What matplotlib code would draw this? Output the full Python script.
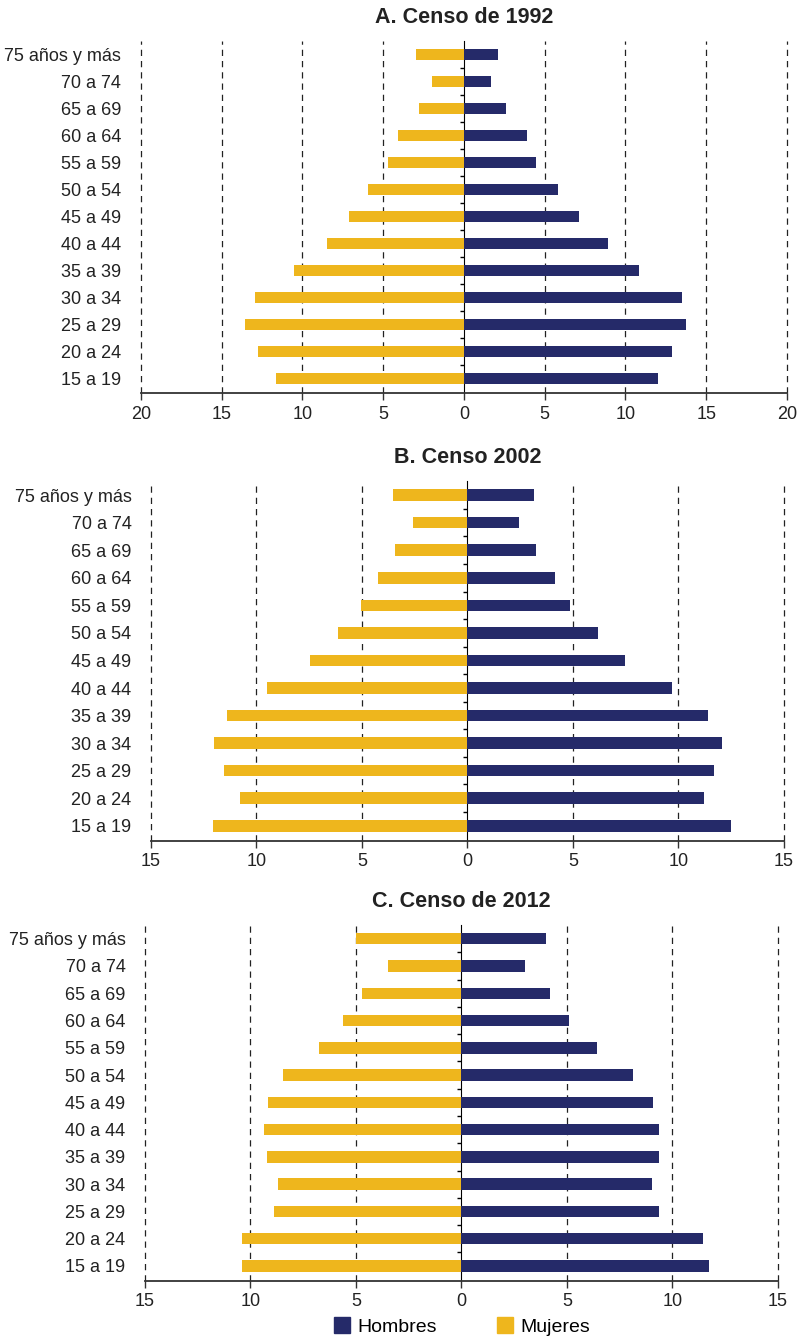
import numpy as np
import matplotlib.pyplot as plt
from matplotlib.lines import Line2D

plt.rcParams['font.family'] = ['Liberation Sans Narrow', 'Liberation Sans', 'DejaVu Sans']

# age groups, bottom to top
grupos = ['15 a 19', '20 a 24', '25 a 29', '30 a 34', '35 a 39', '40 a 44', '45 a 49',
          '50 a 54', '55 a 59', '60 a 64', '65 a 69', '70 a 74', '75 años y más']

# percentages
hombres_1992 = [12.0, 12.85, 13.75, 13.5, 10.85, 8.9, 7.1, 5.8, 4.45, 3.9, 2.6, 1.7, 2.1]
mujeres_1992 = [11.6, 12.75, 13.55, 12.95, 10.5, 8.45, 7.1, 5.95, 4.7, 4.05, 2.8, 1.95, 2.95]
hombres_2002 = [12.5, 11.2, 11.7, 12.05, 11.4, 9.7, 7.45, 6.2, 4.85, 4.15, 3.25, 2.45, 3.15]
mujeres_2002 = [12.05, 10.8, 11.55, 12.0, 11.4, 9.5, 7.45, 6.15, 5.05, 4.25, 3.45, 2.6, 3.55]
hombres_2012 = [11.75, 11.45, 9.35, 9.05, 9.35, 9.35, 9.1, 8.15, 6.45, 5.1, 4.2, 3.0, 4.0]
mujeres_2012 = [10.4, 10.4, 8.9, 8.7, 9.2, 9.35, 9.15, 8.45, 6.75, 5.6, 4.7, 3.5, 5.0]

titulos = ['A. Censo de 1992', 'B. Censo 2002', 'C. Censo de 2012']
limites = [20, 15, 15]

c_hom = '#252a69'
c_muj = '#eeb61d'

fig = plt.figure(figsize=(7.99, 13.37), dpi=100)

# axes positions [left, bottom, width, height] in figure fractions
posiciones = [
    [0.1762, 0.706, 0.8088, 0.2633],
    [0.189, 0.371, 0.792, 0.269],
    [0.1813, 0.0419, 0.7923, 0.2662],
]

series = [(hombres_1992, mujeres_1992), (hombres_2002, mujeres_2002), (hombres_2012, mujeres_2012)]

for pos, (hom, muj), titulo, lim in zip(posiciones, series, titulos, limites):
    ax = fig.add_axes(pos)
    y = np.arange(len(grupos))
    ax.barh(y, hom, height=0.42, color=c_hom, zorder=3)
    ax.barh(y, -np.array(muj), height=0.42, color=c_muj, zorder=3)

    ax.set_xlim(-lim, lim)
    ax.set_ylim(-0.55, len(grupos) - 0.5)
    ticks = np.arange(-lim, lim + 1, 5)
    ax.set_xticks(ticks)
    ax.set_xticklabels([str(abs(t)) for t in ticks])
    ax.set_yticks(y)
    ax.set_yticklabels(grupos)

    # dashed vertical grid
    for t in ticks:
        if t != 0:
            ax.axvline(t, color='#222222', lw=0.9, ls=(0, (5, 4)), zorder=1, clip_on=False)

    for s in ['top', 'right', 'left']:
        ax.spines[s].set_visible(False)
    ax.spines['bottom'].set_color('#333333')
    ax.spines['bottom'].set_linewidth(1.3)
    ax.tick_params(axis='x', length=5, width=1, color='#333333', labelsize=13, pad=4,
                   labelcolor='#222222')
    ax.tick_params(axis='y', length=0, labelsize=13, pad=14, labelcolor='#222222')

    # central axis with small ticks between groups
    sec = ax.secondary_yaxis(0.5)
    sec.set_yticks([])
    sec.set_yticks(np.arange(0.5, len(grupos) - 1, 1), minor=True)
    sec.tick_params(which='minor', length=3, width=1, direction='in', labelleft=False)
    sec.spines['left'].set_linewidth(1.1)
    sec.spines['left'].set_color('black')

    ax.set_title(titulo, fontsize=15.5, fontweight='bold', pad=13, color='#222222')

handles = [Line2D([], [], marker='s', ls='', color=c_hom, markersize=11),
           Line2D([], [], marker='s', ls='', color=c_muj, markersize=11)]
fig.legend(handles, ['Hombres', 'Mujeres'], loc='center', bbox_to_anchor=(0.577, 0.0075),
           ncol=2, frameon=False, fontsize=14, columnspacing=3.0, handletextpad=0.3,
           handlelength=1.0)

fig.savefig('out.png', dpi=100)
